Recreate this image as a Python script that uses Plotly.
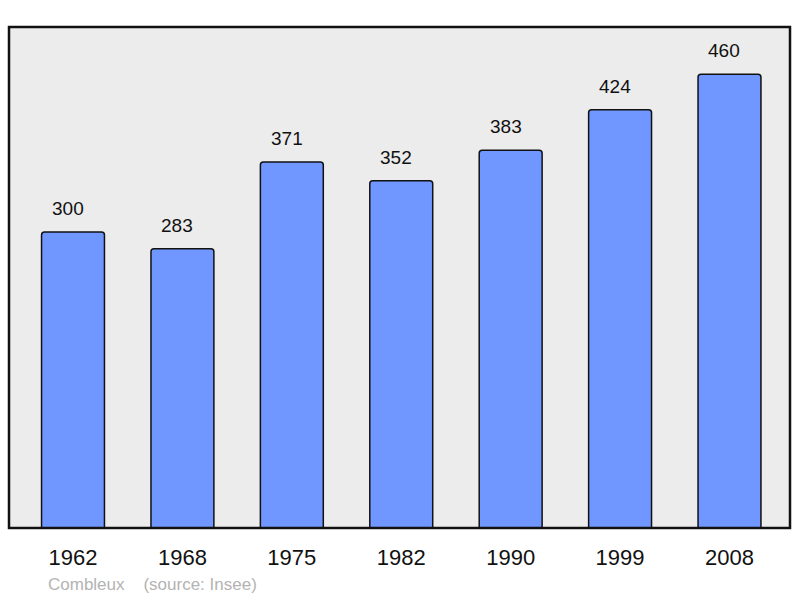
import plotly.graph_objects as go

years = ["1962", "1968", "1975", "1982", "1990", "1999", "2008"]
population = [300, 283, 371, 352, 383, 424, 460]

x_pos = list(range(len(years)))

fig = go.Figure()
fig.add_trace(go.Bar(
    x=x_pos, y=population, width=0.575,
    marker=dict(color="#7096ff", line=dict(color="#111111", width=1.5), cornerradius=3),
    hoverinfo="skip",
))

for xi, v in zip(x_pos, population):
    fig.add_annotation(x=xi, y=v, text=str(v), showarrow=False, yanchor="bottom",
                       yshift=11, xshift=-5,
                       font=dict(size=19, color="#111111", family="Liberation Sans, Arial"))

fig.add_annotation(xref="paper", yref="paper", x=0.048, y=-0.113, xanchor="left", yanchor="middle",
                   text="Combleux&nbsp;&nbsp;&nbsp;&nbsp;(source: Insee)", showarrow=False,
                   font=dict(size=17, color="#b3b3b3", family="Liberation Sans, Arial"))

fig.update_layout(
    width=800, height=598,
    margin=dict(l=9, r=10, t=27, b=70),
    paper_bgcolor="white", plot_bgcolor="#ececec",
    showlegend=False,
    font=dict(family="Liberation Sans, Arial", color="#111111"),
    shapes=[dict(type="rect", xref="paper", yref="paper", x0=0, x1=1, y0=0, y1=1,
                 line=dict(color="#111111", width=2.5), layer="above")],
)
fig.update_xaxes(range=[-0.585, 6.553], tickmode="array", tickvals=x_pos, ticktext=years,
                 showgrid=False, zeroline=False, ticks="", tickfont=dict(size=22),
                 ticklabelstandoff=14)
fig.update_yaxes(range=[0, 507.8], showgrid=False, zeroline=False, showticklabels=False)

fig.write_html("out.html", config={"displayModeBar": False, "staticPlot": True},
               post_script="document.body.style.margin='0';document.body.style.overflow='hidden';")
